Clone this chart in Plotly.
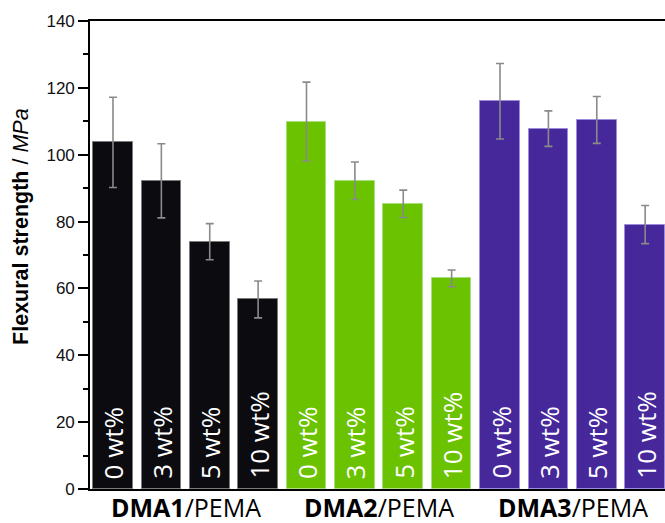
import plotly.graph_objects as go

# Flexural strength of DMA/PEMA formulations (mean ± SD, MPa)
groups = ["DMA1", "DMA2", "DMA3"]
loadings = ["0 wt%", "3 wt%", "5 wt%", "10 wt%"]
strength_dma1 = [103.7, 92.2, 74.0, 56.7]
strength_dma2 = [109.9, 92.2, 85.3, 63.0]
strength_dma3 = [116.0, 107.8, 110.4, 79.1]
sd_dma1 = [13.5, 11.1, 5.4, 5.5]
sd_dma2 = [11.8, 5.6, 4.1, 2.5]
sd_dma3 = [11.3, 5.3, 7.0, 5.7]
y_ticks = [0, 20, 40, 60, 80, 100, 120, 140]

series = [
    (strength_dma1, sd_dma1, "#0b0b10", "#7a7a7a"),
    (strength_dma2, sd_dma2, "#6bc200", "#a6e07a"),
    (strength_dma3, sd_dma3, "#47289b", "#9d8bdc"),
]

fig = go.Figure()
n = len(loadings)
for gi, (vals, sds, fill, edge) in enumerate(series):
    xs = [gi * n + i for i in range(n)]
    fig.add_trace(go.Bar(
        x=xs, y=vals,
        width=0.82,
        marker=dict(color=fill, line=dict(color=edge, width=1)),
        error_y=dict(type="data", array=sds, visible=True,
                     color="#8a8a8a", thickness=1.6, width=4),
        showlegend=False,
    ))
    # loading label written upward from the base of each bar
    for x, lab in zip(xs, loadings):
        fig.add_annotation(
            x=x, xref="x", y=0, yref="y",
            text=lab, textangle=-90, showarrow=False,
            xanchor="center", yanchor="bottom", yshift=8,
            font=dict(family="Open Sans", size=26, color="white"),
        )

# Group captions under the axis: bold resin name + "/PEMA"
for gi, g in enumerate(groups):
    fig.add_annotation(
        x=gi * n + (n - 1) / 2, xref="x",
        y=0, yref="paper", yanchor="top", yshift=0, borderpad=0,
        text=f"<b>{g}</b>/PEMA",
        showarrow=False,
        font=dict(family="Open Sans", size=25, color="black"),
    )

# Y-axis title
fig.add_annotation(
    x=-0.12, xref="paper", y=0.56, yref="paper",
    text="<b>Flexural strength</b> / <i>MPa</i>",
    textangle=-90, showarrow=False,
    xanchor="center", yanchor="middle",
    font=dict(family="Liberation Sans, Arial", size=21.5, color="black"),
)

fig.update_layout(
    width=665, height=523,
    margin=dict(l=90, r=0, t=21, b=34),
    plot_bgcolor="white", paper_bgcolor="white",
    bargap=0,
)
fig.update_xaxes(
    range=[-0.475, 11.41],
    showticklabels=False, ticks="",
    showgrid=False, zeroline=False,
    showline=True, linecolor="black", linewidth=1.6, mirror=True,
)
fig.update_yaxes(
    range=[0, 140],
    tickvals=y_ticks,
    ticks="outside", ticklen=10, tickwidth=1.5, tickcolor="black",
    minor=dict(dtick=10, ticks="outside", ticklen=5, tickwidth=1.5, tickcolor="black"),
    tickfont=dict(family="Liberation Sans, Arial", size=17, color="#111"),
    showgrid=False, zeroline=False,
    showline=True, linecolor="black", linewidth=1.6,
)

fig.write_html("out.html")
